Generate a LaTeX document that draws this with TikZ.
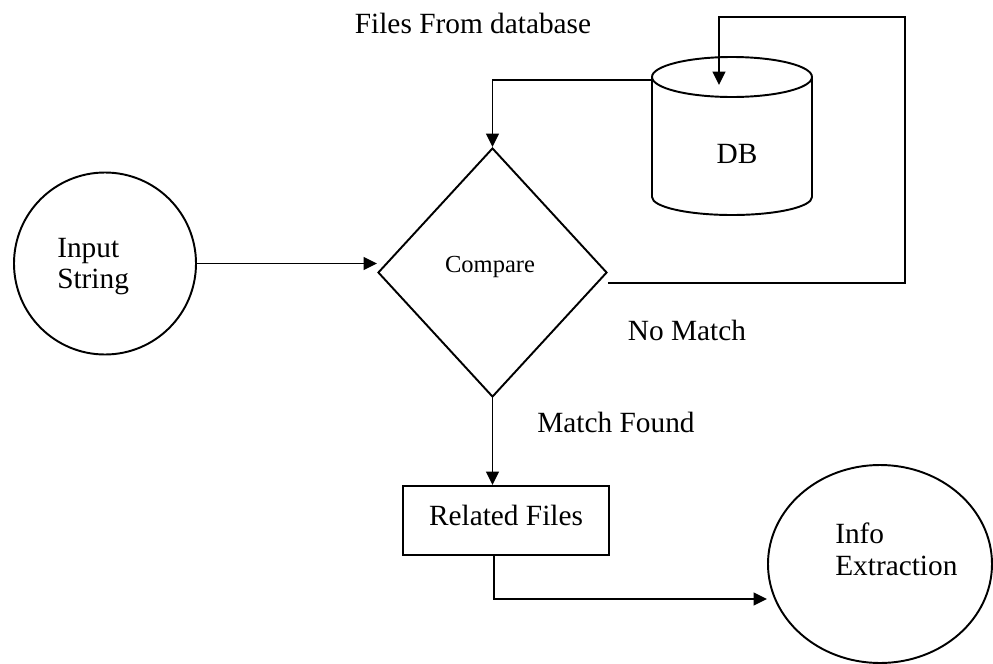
\documentclass[tikz,border=0pt]{standalone}
\usepackage{fontspec}
\setmainfont{Liberation Serif}
\usetikzlibrary{shapes.geometric,arrows.meta}
\begin{document}
\begin{tikzpicture}[x=0.75pt,y=-0.75pt,
  every node/.style={font=\fontsize{22}{26}\selectfont,inner sep=0pt},
  wire/.style={line width=1.45pt},
  arrowed/.style={wire,-{Triangle[length=10pt,width=9.5pt]}},
  shapebox/.style={draw,wire,inner sep=0pt}]
\useasboundingbox (0,0) rectangle (993,664);

% input circle
\node[shapebox,circle,minimum size=136.5pt] (inp) at (105,263.5) {};
\node[anchor=base west] (inpA) at (57,257) {Input};
\node[anchor=base west] (inpB) at (57,288) {String};

% decision
\node[shapebox,diamond,minimum width=171.75pt,minimum height=186.75pt] (cmp) at (492.5,272.5) {};
\node[anchor=base,font=\fontsize{18.4}{22}\selectfont] (cmptxt) at (490,272) {Compare};

% database cylinder
\draw[wire] (652,77) -- (652,197)
  arc[start angle=180,end angle=360,x radius=60pt,y radius=13.5pt] -- (812,77);
\draw[wire] (732,77) ellipse[x radius=60pt,y radius=15pt];
\node[anchor=base] (db) at (737,163) {DB};
\coordinate (dbleft) at (652,80);
\coordinate (dbtop) at (719,85);

% result box and extraction
\node[shapebox,minimum width=154.5pt,minimum height=51.75pt,text depth=8pt] (rel) at (506,520.5) {Related Files};
\node[shapebox,ellipse,minimum width=168pt,minimum height=148.5pt] (info) at (880,564) {};
\node[anchor=base west] (infoA) at (835,543) {Info};
\node[anchor=base west] (infoB) at (835,575) {Extraction};

% labels
\node[anchor=base] (lfiles) at (473,33) {Files From database};
\node[anchor=base] (lnomatch) at (687,340) {No Match};
\node[anchor=base] (lmatch) at (616,432) {Match Found};

% connectors
\draw[arrowed] (inp.east) -- (inp.east -| cmp.west);
\draw[arrowed] (dbleft) -| (cmp.north);
\coordinate (loopA) at (905,283);
\coordinate (loopB) at (905,17);
\draw[arrowed] (cmp.east |- loopA) -- (loopA) -- (loopB) -| (dbtop);
\draw[arrowed] (cmp.south) -- (cmp.south |- rel.north);
\coordinate (bend) at (494,599);
\draw[arrowed] (bend |- rel.south) -- (bend) -- (bend -| info.west);
\end{tikzpicture}
\end{document}
